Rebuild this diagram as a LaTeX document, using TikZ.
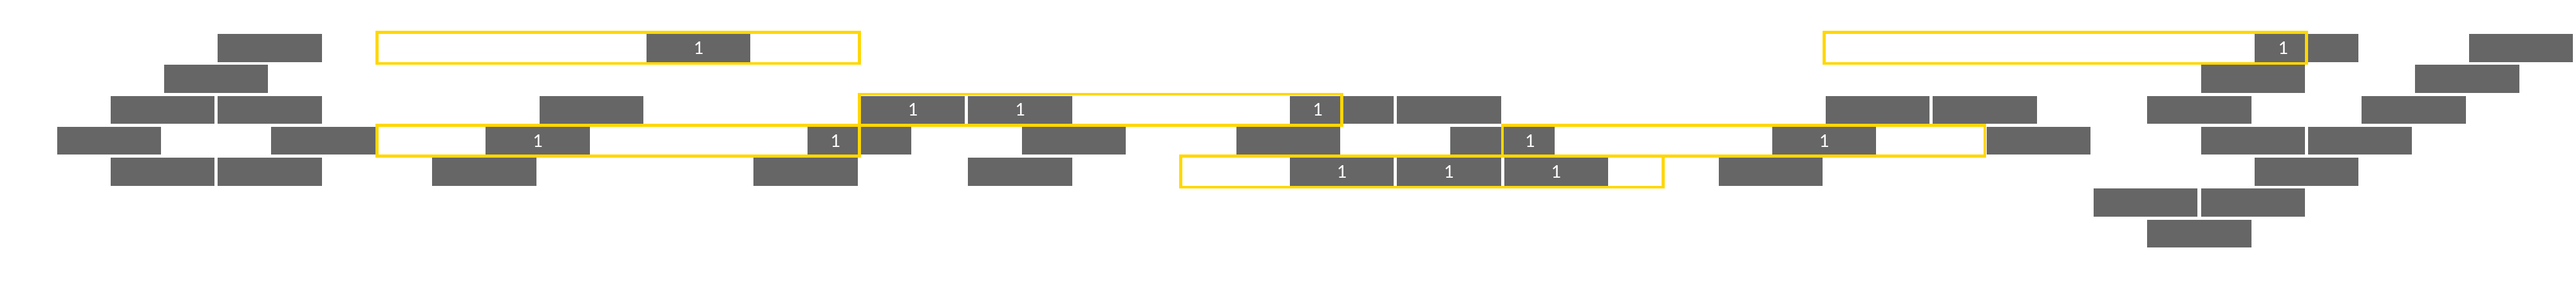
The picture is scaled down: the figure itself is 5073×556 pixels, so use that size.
\documentclass[tikz,border=0pt]{standalone}
\usepackage{fontspec}
\setmainfont{Carlito}
\definecolor{cellgray}{HTML}{666666}
\definecolor{wingold}{HTML}{FFD700}
\tikzset{
  cell/.style={fill=cellgray, draw=none, minimum width=102.4pt, minimum height=27.5pt,
               inner sep=0pt, outer sep=0pt, anchor=north west, text=white,
               font=\fontsize{19.25pt}{20pt}\selectfont},
  lbl/.style={text=white, inner sep=0pt, font=\fontsize{19.25pt}{20pt}\selectfont},
  win/.style={draw=wingold, line width=2.8pt},
}
\begin{document}
\begin{tikzpicture}[x=0.5pt,y=-0.5pt]
\useasboundingbox[fill=white] (0,0) rectangle (5073,556);
% plain cells
\foreach \r/\k in {0/3,0/41,0/45,
                   1/2,1/40,1/44,
                   2/1,2/3,2/9,2/23,2/25,2/33,2/35,2/39,2/43,
                   3/0,3/4,3/14,3/18,3/22,3/26,3/36,3/40,3/42,
                   4/1,4/3,4/7,4/13,4/17,4/31,4/41,
                   5/38,5/40,
                   6/39}
  \node[cell] (c\r-\k) at ({112.2+105.55*\k},{67+61*\r}) {};
% labelled cells
\foreach \r/\k in {0/11,2/15,2/17,3/8,3/32,4/23,4/25,4/27}
  \node[cell] (c\r-\k) at ({112.2+105.55*\k},{67+61*\r}) {1};
% labels on the part of a cell that lies inside a window
\node[lbl] (p0-41) at (4496,94.5) {1};
\node[lbl] (p2-23) at (2595,216.5) {1};
\node[lbl] (p3-14) at (1645,277.5) {1};
\node[lbl] (p3-26) at (3013,277.5) {1};
% windows
\foreach \r/\a/\b in {0/6/15,3/6/15,2/15/24,4/21/30,3/27/36,0/33/42}
  \draw[win] ({109.05+105.55*\a},{64+61*\r}) rectangle ({109.05+105.55*\b},{125+61*\r});
\end{tikzpicture}
\end{document}
